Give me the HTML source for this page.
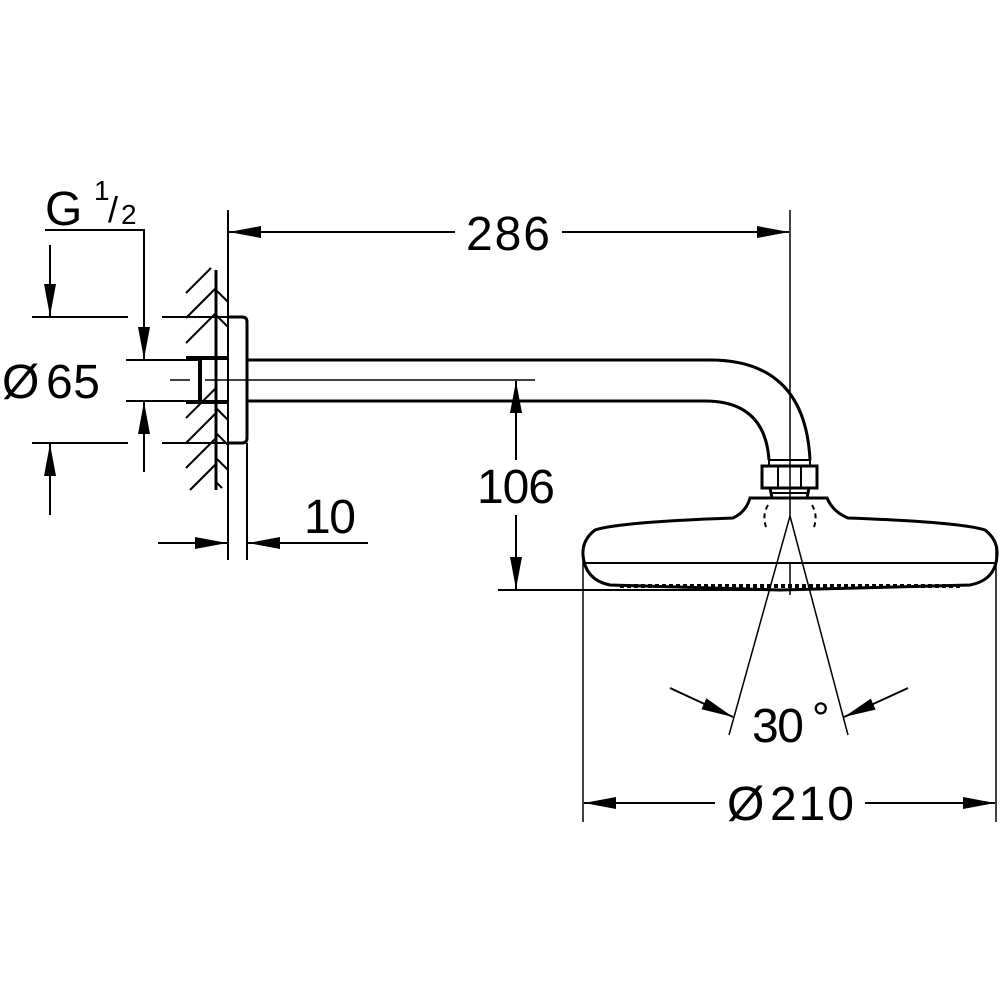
<!DOCTYPE html>
<html><head><style>
html,body{margin:0;padding:0;background:#fff;}
svg{display:block}
text{font-family:"Liberation Sans",sans-serif;fill:#000}
</style></head><body>
<svg width="1000" height="1000" viewBox="0 0 1000 1000" xmlns="http://www.w3.org/2000/svg">
<defs>
<marker id="a" viewBox="0 0 32 12" refX="32" refY="6" markerWidth="32" markerHeight="12" markerUnits="userSpaceOnUse" orient="auto"><path d="M0,0 L32,6 L0,12 Z" fill="#000"/></marker>
</defs>
<g stroke="#000" fill="none" stroke-width="2">
<line x1="216" y1="270" x2="216" y2="490" stroke-width="3"/>
<line x1="228" y1="210" x2="228" y2="560"/>
<line x1="247" y1="443" x2="247" y2="560"/>
<g stroke-width="2">
<line x1="186" y1="293" x2="211" y2="268"/>
<line x1="186" y1="318" x2="216" y2="288"/>
<line x1="186" y1="343" x2="216" y2="313"/>
<line x1="186" y1="418" x2="216" y2="388"/>
<line x1="186" y1="443" x2="216" y2="413"/>
<line x1="186" y1="468" x2="216" y2="438"/>
<line x1="190" y1="490" x2="216" y2="464"/>
<line x1="216" y1="290" x2="228" y2="302"/>
<line x1="216" y1="315" x2="228" y2="327"/>
<line x1="216" y1="408" x2="228" y2="420"/>
<line x1="216" y1="433" x2="228" y2="445"/>
<line x1="216" y1="458" x2="228" y2="470"/>
<line x1="216" y1="482" x2="222" y2="488"/>
</g>
<path d="M228,317 H242 Q247,317 247,322 V438 Q247,443 242,443 H228" stroke-width="3"/>
<path d="M186,358 H228 M186,402 H228 M200,358 V402" stroke-width="4"/>
<path d="M247,360 H710 Q805,360 810,460" stroke-width="3"/>
<path d="M247,401 H705 Q765,401 769,460" stroke-width="3"/>
<line x1="247" y1="360" x2="247" y2="401" stroke-width="3"/>
<rect x="769" y="460" width="41" height="6" stroke-width="2"/>
<rect x="762" y="466" width="55" height="22" stroke-width="3"/>
<line x1="778" y1="466" x2="778" y2="488"/>
<line x1="801" y1="466" x2="801" y2="488"/>
<path d="M770,488 L772,498 H807 L809,488" stroke-width="3"/>
<line x1="772" y1="493" x2="807" y2="493"/>
<path d="M750,498 H827 Q833,512 848,518 Q960,522 985,530 Q998,540 997,555 Q996,580 970,585 L780,590 L610,585 Q585,580 583,555 Q582,540 595,530 Q620,522 733,518 Q746,512 750,498 Z" stroke-width="3"/>
<line x1="585" y1="563" x2="995" y2="563" stroke-width="2"/>
<path d="M768,505 Q762,515 766,527 M812,505 Q818,515 814,527" stroke-dasharray="5,4"/>
<line x1="620" y1="586" x2="960" y2="586" stroke-width="4" stroke-dasharray="4,3"/>
<line x1="790" y1="210" x2="790" y2="516" stroke-width="1.5"/>
<line x1="790" y1="563" x2="790" y2="595" stroke-width="1.5"/>
<line x1="170" y1="380" x2="190" y2="380" stroke-width="1.5"/>
<line x1="205" y1="380" x2="535" y2="380" stroke-width="1.5"/>
<line x1="455" y1="232" x2="229" y2="232" marker-end="url(#a)"/>
<line x1="562" y1="232" x2="789" y2="232" marker-end="url(#a)"/>
<line x1="516" y1="460" x2="516" y2="381" marker-end="url(#a)"/>
<line x1="516" y1="515" x2="516" y2="589" marker-end="url(#a)"/>
<line x1="498" y1="590" x2="790" y2="590"/>
<line x1="32" y1="317" x2="128" y2="317"/>
<line x1="162" y1="317" x2="228" y2="317"/>
<line x1="32" y1="443" x2="128" y2="443"/>
<line x1="162" y1="443" x2="228" y2="443"/>
<line x1="126" y1="360" x2="200" y2="360"/>
<line x1="126" y1="401" x2="200" y2="401"/>
<line x1="50" y1="245" x2="50" y2="316" marker-end="url(#a)"/>
<line x1="50" y1="515" x2="50" y2="444" marker-end="url(#a)"/>
<polyline points="45,230 144,230 144,250"/>
<line x1="144" y1="250" x2="144" y2="359" marker-end="url(#a)"/>
<line x1="144" y1="472" x2="144" y2="402" marker-end="url(#a)"/>
<line x1="158" y1="543" x2="227" y2="543" marker-end="url(#a)"/>
<line x1="368" y1="543" x2="248" y2="543" marker-end="url(#a)"/>
<line x1="790" y1="516" x2="729" y2="735" stroke-width="1.5"/>
<line x1="790" y1="516" x2="848" y2="735" stroke-width="1.5"/>
<path d="M670,688 Q700,702 733,717" marker-end="url(#a)"/>
<path d="M908,688 Q878,702 844,717" marker-end="url(#a)"/>
<line x1="583" y1="545" x2="583" y2="822" stroke-width="1.5"/>
<line x1="996" y1="545" x2="996" y2="822" stroke-width="1.5"/>
<line x1="715" y1="803" x2="584" y2="803" marker-end="url(#a)"/>
<line x1="865" y1="803" x2="995" y2="803" marker-end="url(#a)"/>
</g>
<g font-size="48">
<text x="508" y="250" text-anchor="middle" textLength="84">286</text>
<text x="516" y="503" text-anchor="middle" textLength="78">106</text>
<text x="330" y="533" text-anchor="middle" textLength="52">10</text>
<text x="2" y="398" textLength="36">Ø</text>
<text x="46" y="398" textLength="54">65</text>
<text x="45" y="225" textLength="36">G</text>
<text x="752" y="742" textLength="52">30</text>
<text x="727" y="820" textLength="36">Ø</text>
<text x="770" y="820" textLength="84">210</text>
</g>
<text x="94" y="200" font-size="28">1</text>
<text x="108" y="222" font-size="36">/</text>
<text x="121" y="224" font-size="28">2</text>
<text x="812" y="733" font-size="44">°</text>
</svg>
</body></html>
